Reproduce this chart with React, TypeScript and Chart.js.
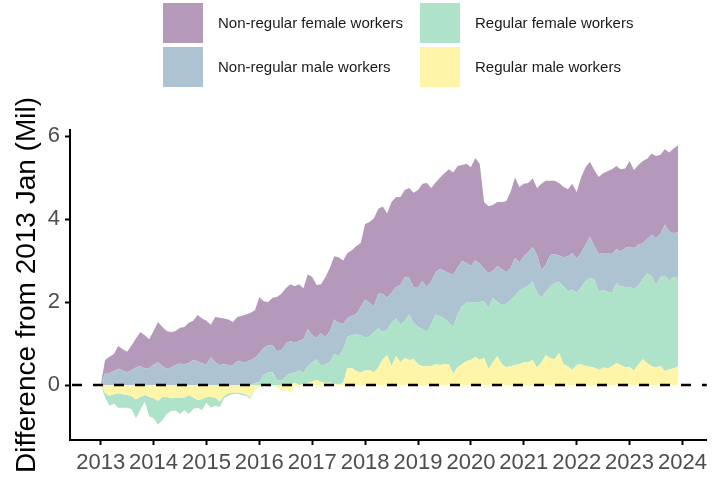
import React, { useEffect, useRef } from 'react';
import { Chart, registerables } from 'chart.js';

Chart.register(...registerables);

// Monthly change since 2013 Jan (millions), Jan 2013 .. Dec 2023
const startYear = 2013;

const regularMale = [
  0, -0.19, -0.26, -0.22, -0.2, -0.22, -0.24, -0.26, -0.35, -0.28, -0.24, -0.28,
  -0.32, -0.38, -0.28, -0.28, -0.32, -0.3, -0.3, -0.3, -0.24, -0.3, -0.36, -0.34,
  -0.29, -0.29, -0.3, -0.4, -0.26, -0.2, -0.18, -0.18, -0.2, -0.22, -0.3, -0.12,
  -0.05, -0.02, -0.01, -0.02, -0.05, -0.15, -0.1, -0.2, 0.06, -0.05, 0.02, 0.05,
  0.08, 0.12, 0.07, 0.05, 0.06, 0.03, 0.01, 0.05, 0.41, 0.41, 0.33, 0.3,
  0.35, 0.36, 0.3, 0.43, 0.62, 0.72, 0.45, 0.7, 0.55, 0.65, 0.6, 0.62,
  0.5, 0.45, 0.45, 0.46, 0.5, 0.48, 0.5, 0.5, 0.28, 0.43, 0.5, 0.58,
  0.6, 0.68, 0.6, 0.65, 0.38, 0.55, 0.7, 0.5, 0.43, 0.45, 0.48, 0.5,
  0.55, 0.55, 0.6, 0.42, 0.55, 0.72, 0.65, 0.62, 0.77, 0.5, 0.45, 0.36,
  0.48, 0.5, 0.46, 0.44, 0.42, 0.36, 0.42, 0.4, 0.45, 0.53, 0.48, 0.43,
  0.43, 0.35, 0.5, 0.62, 0.53, 0.45, 0.42, 0.46, 0.34, 0.38, 0.4, 0.45,
];

const regularFemale = [
  0, -0.11, -0.24, -0.23, -0.35, -0.33, -0.31, -0.32, -0.45, -0.32, -0.16, -0.47,
  -0.48, -0.57, -0.57, -0.42, -0.3, -0.32, -0.4, -0.3, -0.46, -0.28, -0.19, -0.26,
  -0.14, -0.26, -0.2, -0.13, -0.06, -0.05, -0.04, -0.03, -0.04, -0.04, -0.03, 0.05,
  0.07, 0.24, 0.3, 0.31, 0.12, 0.1, 0.2, 0.28, 0.24, 0.35, 0.28, 0.4,
  0.47, 0.5, 0.38, 0.45, 0.49, 0.72, 0.69, 0.8, 0.75, 0.79, 0.89, 0.9,
  0.78, 0.82, 0.98, 0.94, 0.66, 0.61, 1.05, 0.9, 0.9, 0.9, 1.1, 0.88,
  0.9, 0.9, 0.83, 0.99, 1.2, 1.17, 1.1, 1.0, 1.12, 1.27, 1.4, 1.4,
  1.38, 1.32, 1.4, 1.37, 1.47, 1.55, 1.3, 1.43, 1.52, 1.6, 1.67, 1.78,
  1.78, 1.85, 1.9, 1.8, 1.55, 1.52, 1.73, 1.83, 1.71, 1.88, 1.81, 1.94,
  1.74, 1.85, 2.04, 2.14, 2.13, 1.88, 1.87, 1.85, 1.77, 1.92, 1.9, 1.93,
  1.93, 1.96, 1.9, 1.93, 2.17, 2.17, 1.98, 2.14, 2.29, 2.13, 2.2, 2.13,
];

const nonRegularMale = [
  0, 0.29, 0.29, 0.33, 0.39, 0.35, 0.31, 0.36, 0.42, 0.46, 0.39, 0.41,
  0.48, 0.55, 0.45, 0.39, 0.42, 0.48, 0.52, 0.5, 0.53, 0.6, 0.57, 0.52,
  0.5, 0.67, 0.55, 0.48, 0.5, 0.48, 0.48, 0.58, 0.56, 0.55, 0.6, 0.6,
  0.7, 0.66, 0.66, 0.65, 0.7, 0.74, 0.8, 0.78, 0.72, 0.71, 0.8, 0.9,
  0.65, 0.52, 0.8, 0.65, 0.75, 0.83, 0.8, 0.62, 0.46, 0.46, 0.49, 0.68,
  0.93, 0.8, 0.62, 0.83, 0.92, 0.77, 0.72, 0.76, 0.96, 1.05, 0.88, 0.86,
  0.96, 1.15, 1.08, 1.05, 1.02, 1.15, 1.15, 1.2, 1.25, 1.14, 1.09, 0.96,
  0.89, 1.01, 0.92, 0.78, 0.85, 0.65, 0.87, 0.87, 0.77, 0.77, 0.91, 0.68,
  0.77, 0.8, 0.83, 0.91, 0.67, 0.65, 0.75, 0.71, 0.64, 0.7, 0.84, 0.88,
  0.82, 0.83, 0.87, 0.99, 0.8, 0.92, 0.89, 0.93, 0.94, 0.83, 0.84, 0.94,
  0.97, 0.99, 0.98, 0.87, 0.82, 1.0, 1.14, 1.04, 1.23, 1.19, 1.06, 1.11,
];

const nonRegularFemale = [
  0, 0.31, 0.39, 0.42, 0.55, 0.51, 0.49, 0.59, 0.7, 0.82, 0.81, 0.69,
  0.82, 0.97, 0.95, 0.91, 0.85, 0.82, 0.86, 0.9, 0.97, 0.95, 1.12, 1.08,
  1.05, 0.78, 1.09, 1.14, 1.1, 1.1, 1.04, 1.06, 1.11, 1.15, 1.14, 1.15,
  1.35, 1.12, 1.04, 1.14, 1.3, 1.36, 1.33, 1.37, 1.36, 1.37, 1.23, 1.32,
  1.4, 1.27, 1.18, 1.45, 1.52, 1.52, 1.58, 1.53, 1.56, 1.59, 1.64, 1.54,
  1.82, 1.95, 2.12, 2.05, 2.1, 2.04, 2.19, 2.17, 2.12, 2.1, 2.17, 2.27,
  2.34, 2.35, 2.51, 2.25, 2.16, 2.2, 2.35, 2.5, 2.47, 2.44, 2.31, 2.39,
  2.38, 2.46, 2.41, 1.61, 1.61, 1.59, 1.54, 1.61, 1.71, 1.83, 1.94, 1.81,
  1.75, 1.67, 1.65, 1.62, 2.08, 2.03, 1.79, 1.76, 1.75, 1.7, 1.62, 1.67,
  1.61, 1.82, 1.88, 1.81, 1.83, 1.85, 1.92, 1.97, 2.04, 2.0, 1.98, 1.92,
  2.07, 1.88, 1.92, 1.98, 1.93, 1.96, 1.98, 1.91, 1.82, 1.9, 2.04, 2.09,
];

// Stack order (bottom to top)
const stackNames = ['Regular male workers', 'Regular female workers', 'Non-regular male workers', 'Non-regular female workers'];
const stackColors = ['#FEF5A8', '#AEE2C9', '#ADC3D2', '#B499BB'];

// Legend layout order (column-major, 2x2)
const legendNames = ['Non-regular female workers', 'Non-regular male workers', 'Regular female workers', 'Regular male workers'];
const legendColors = ['#B499BB', '#ADC3D2', '#AEE2C9', '#FEF5A8'];

const xTickValues = [2013, 2014, 2015, 2016, 2017, 2018, 2019, 2020, 2021, 2022, 2023, 2024];
const yTickValues = [0, 2, 4, 6];

const yTitle = 'Difference from 2013 Jan (Mil)';
const FONT = '"Liberation Sans", Arial, Helvetica, sans-serif';

export default function App() {
  const ref = useRef<HTMLCanvasElement>(null);

  useEffect(() => {
    const canvas = ref.current;
    if (!canvas) return;
    const seriesData = [regularMale, regularFemale, nonRegularMale, nonRegularFemale];
    const xs = regularMale.map((_, i) => startYear + i / 12);

    const mk = (arr: number[], positive: boolean) =>
      arr.map((v, i) => ({ x: xs[i], y: positive ? Math.max(v, 0) : Math.min(v, 0) }));

    const datasets: any[] = [];
    [true, false].forEach((pos) => {
      seriesData.forEach((arr, i) => {
        datasets.push({
          label: stackNames[i] + (pos ? '' : ' (neg)'),
          data: mk(arr, pos),
          stack: pos ? 'pos' : 'neg',
          backgroundColor: stackColors[i],
          borderColor: 'rgba(0,0,0,0)',
          borderWidth: 0,
          pointRadius: 0,
          pointHitRadius: 0,
          tension: 0,
          fill: i === 0 ? 'origin' : '-1',
        });
      });
    });

    const zeroLine = {
      id: 'zeroLine',
      afterDatasetsDraw(chart: any) {
        const { ctx, chartArea, scales } = chart;
        const y = scales.y.getPixelForValue(0);
        ctx.save();
        ctx.strokeStyle = '#000';
        ctx.lineWidth = 2.5;
        ctx.setLineDash([10, 11]);
        ctx.beginPath();
        ctx.moveTo(chartArea.left + 2, y);
        ctx.lineTo(chartArea.right, y);
        ctx.stroke();
        ctx.restore();
      },
    };

    const gridLegend = {
      id: 'gridLegend',
      afterDraw(chart: any) {
        const { ctx } = chart;
        ctx.save();
        const colX = [163, 420];
        const rowY = [3, 47];
        const box = 40;
        ctx.font = `15px ${FONT}`;
        ctx.textBaseline = 'middle';
        ctx.textAlign = 'left';
        legendNames.forEach((name, k) => {
          const c = Math.floor(k / 2);
          const r = k % 2;
          const x = colX[c];
          const y = rowY[r];
          ctx.fillStyle = legendColors[k];
          ctx.fillRect(x, y, box, box);
          ctx.fillStyle = '#1a1a1a';
          ctx.fillText(name, x + box + 15, y + box / 2 + 1);
        });
        ctx.restore();
      },
    };

    const chart = new Chart(canvas, {
      type: 'line',
      data: { datasets },
      plugins: [zeroLine, gridLegend],
      options: {
        animation: false,
        responsive: false,
        devicePixelRatio: 1,
        events: [],
        layout: { padding: { top: 130, right: 2, left: 0, bottom: 0 } },
        plugins: {
          legend: { display: false },
          tooltip: { enabled: false },
          title: { display: false },
        },
        elements: { line: { borderWidth: 0 }, point: { radius: 0 } },
        scales: {
          x: {
            type: 'linear',
            min: 2012.42,
            max: 2024.46,
            afterBuildTicks: (s: any) => {
              s.ticks = xTickValues.map((v) => ({ value: v }));
            },
            afterFit: (s: any) => {
              s.height = 40;
            },
            ticks: {
              autoSkip: false,
              maxRotation: 0,
              padding: 5,
              color: '#4D4D4D',
              font: { family: FONT, size: 22 },
              callback: (v: any) => String(v),
            },
            grid: {
              display: true,
              drawOnChartArea: false,
              drawTicks: true,
              tickLength: 5,
              tickWidth: 2,
              tickColor: '#000',
            },
            border: { display: true, color: '#000', width: 2 },
          },
          y: {
            type: 'linear',
            stacked: true,
            min: -1.325,
            max: 6.145,
            afterBuildTicks: (s: any) => {
              s.ticks = yTickValues.map((v) => ({ value: v }));
            },
            afterFit: (s: any) => {
              s.width = 70;
            },
            ticks: {
              padding: 5,
              color: '#4D4D4D',
              font: { family: FONT, size: 22 },
              callback: (v: any) => String(v),
            },
            grid: {
              display: true,
              drawOnChartArea: false,
              drawTicks: true,
              tickLength: 5,
              tickWidth: 2,
              tickColor: '#000',
            },
            border: { display: true, color: '#000', width: 2 },
            title: {
              display: true,
              text: yTitle,
              color: '#000',
              font: { family: FONT, size: 28, lineHeight: 1.2 },
              padding: { top: 10, bottom: 0 },
            },
          },
        },
      },
    });

    return () => chart.destroy();
  }, []);

  return (
    <div style={{ position: 'fixed', left: 0, top: 0, width: 712, height: 480, background: '#fff' }}>
      <canvas ref={ref} width={712} height={480} style={{ display: 'block', width: 712, height: 480 }} />
    </div>
  );
}
